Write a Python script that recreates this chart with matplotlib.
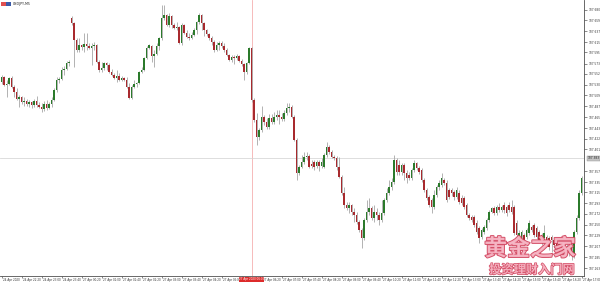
import matplotlib
matplotlib.use("Agg")
import matplotlib.pyplot as plt
import matplotlib.patheffects as pe
import matplotlib.transforms as mtransforms
from matplotlib.patches import Rectangle
import numpy as np

# ── data: USDJPY M5 candles ──────────────────────────────────────────────────

SYMBOL = "USDJPY,M5"

opens = [
    107.536, 107.546, 107.530, 107.532, 107.544, 107.526, 107.516, 107.502, 107.506, 107.496,
    107.498, 107.492, 107.496, 107.490, 107.498, 107.490, 107.486, 107.482, 107.492, 107.484,
    107.492, 107.500, 107.520, 107.540, 107.542, 107.560, 107.562, 107.574, 107.664, 107.654,
    107.620, 107.600, 107.610, 107.606, 107.612, 107.608, 107.604, 107.608, 107.610, 107.576,
    107.560, 107.564, 107.574, 107.570, 107.556, 107.550, 107.544, 107.548, 107.540, 107.544,
    107.540, 107.526, 107.504, 107.526, 107.532, 107.534, 107.556, 107.560, 107.584, 107.604,
    107.608, 107.588, 107.592, 107.608, 107.624, 107.664, 107.670, 107.650, 107.668, 107.650,
    107.644, 107.646, 107.614, 107.650, 107.634, 107.626, 107.624, 107.630, 107.640, 107.656,
    107.670, 107.654, 107.640, 107.632, 107.624, 107.616, 107.600, 107.610, 107.614, 107.608,
    107.600, 107.590, 107.580, 107.586, 107.584, 107.588, 107.578, 107.572, 107.556, 107.574,
    107.604, 107.500, 107.460, 107.426, 107.440, 107.466, 107.456, 107.446, 107.464, 107.456,
    107.466, 107.470, 107.466, 107.462, 107.474, 107.484, 107.486, 107.466, 107.420, 107.354,
    107.366, 107.376, 107.386, 107.388, 107.372, 107.376, 107.368, 107.376, 107.368, 107.366,
    107.390, 107.406, 107.396, 107.386, 107.384, 107.366, 107.346, 107.314, 107.290, 107.284,
    107.290, 107.276, 107.270, 107.256, 107.240, 107.224, 107.260, 107.276, 107.284, 107.264,
    107.276, 107.270, 107.260, 107.274, 107.300, 107.314, 107.326, 107.336, 107.380, 107.370,
    107.356, 107.370, 107.354, 107.350, 107.344, 107.360, 107.374, 107.364, 107.360, 107.340,
    107.320, 107.306, 107.300, 107.286, 107.310, 107.326, 107.330, 107.340, 107.334, 107.320,
    107.320, 107.316, 107.306, 107.314, 107.304, 107.304, 107.290, 107.270, 107.266, 107.266,
    107.254, 107.244, 107.226, 107.236, 107.244, 107.260, 107.276, 107.284, 107.274, 107.286,
    107.280, 107.290, 107.286, 107.290, 107.286, 107.286, 107.254, 107.220, 107.224, 107.230,
    107.226, 107.234, 107.246, 107.250, 107.244, 107.236, 107.230, 107.224, 107.226, 107.224,
    107.226, 107.220, 107.216, 107.208, 107.212, 107.204, 107.196, 107.206, 107.210, 107.190,
    107.236, 107.264, 107.314,
]

highs = [
    107.550, 107.548, 107.540, 107.546, 107.548, 107.530, 107.524, 107.510, 107.508, 107.506,
    107.502, 107.500, 107.498, 107.502, 107.508, 107.496, 107.494, 107.498, 107.500, 107.496,
    107.506, 107.524, 107.546, 107.546, 107.566, 107.568, 107.578, 107.580, 107.668, 107.656,
    107.624, 107.624, 107.612, 107.634, 107.634, 107.614, 107.614, 107.616, 107.612, 107.580,
    107.576, 107.576, 107.576, 107.574, 107.562, 107.554, 107.560, 107.554, 107.548, 107.546,
    107.546, 107.534, 107.530, 107.540, 107.536, 107.558, 107.566, 107.586, 107.608, 107.612,
    107.610, 107.600, 107.614, 107.626, 107.690, 107.690, 107.672, 107.674, 107.670, 107.654,
    107.656, 107.648, 107.654, 107.652, 107.640, 107.634, 107.636, 107.644, 107.658, 107.674,
    107.672, 107.656, 107.642, 107.634, 107.628, 107.620, 107.616, 107.618, 107.618, 107.614,
    107.604, 107.592, 107.590, 107.590, 107.592, 107.590, 107.582, 107.574, 107.576, 107.606,
    107.606, 107.504, 107.474, 107.444, 107.488, 107.470, 107.464, 107.472, 107.472, 107.476,
    107.480, 107.480, 107.474, 107.480, 107.494, 107.494, 107.490, 107.470, 107.424, 107.370,
    107.390, 107.396, 107.396, 107.392, 107.380, 107.380, 107.380, 107.380, 107.384, 107.394,
    107.416, 107.410, 107.400, 107.390, 107.388, 107.386, 107.350, 107.326, 107.296, 107.296,
    107.292, 107.284, 107.276, 107.260, 107.244, 107.264, 107.300, 107.304, 107.288, 107.290,
    107.284, 107.276, 107.300, 107.304, 107.324, 107.340, 107.344, 107.390, 107.384, 107.380,
    107.374, 107.374, 107.360, 107.356, 107.364, 107.380, 107.376, 107.368, 107.364, 107.344,
    107.324, 107.310, 107.304, 107.320, 107.330, 107.340, 107.354, 107.344, 107.340, 107.324,
    107.324, 107.320, 107.326, 107.320, 107.310, 107.308, 107.294, 107.274, 107.270, 107.270,
    107.260, 107.248, 107.244, 107.250, 107.264, 107.280, 107.286, 107.288, 107.290, 107.294,
    107.290, 107.296, 107.290, 107.296, 107.300, 107.290, 107.260, 107.240, 107.240, 107.234,
    107.244, 107.260, 107.250, 107.254, 107.248, 107.240, 107.234, 107.250, 107.230, 107.228,
    107.230, 107.224, 107.220, 107.224, 107.216, 107.210, 107.212, 107.210, 107.214, 107.240,
    107.270, 107.320, 107.348,
]

lows = [
    107.532, 107.528, 107.506, 107.530, 107.524, 107.506, 107.500, 107.486, 107.492, 107.488,
    107.488, 107.486, 107.484, 107.486, 107.486, 107.484, 107.476, 107.478, 107.480, 107.482,
    107.486, 107.498, 107.516, 107.534, 107.540, 107.550, 107.560, 107.568, 107.650, 107.566,
    107.596, 107.596, 107.600, 107.596, 107.600, 107.602, 107.570, 107.600, 107.574, 107.556,
    107.556, 107.560, 107.560, 107.554, 107.548, 107.542, 107.536, 107.538, 107.538, 107.538,
    107.524, 107.502, 107.502, 107.524, 107.526, 107.532, 107.554, 107.558, 107.582, 107.602,
    107.576, 107.566, 107.590, 107.600, 107.620, 107.660, 107.648, 107.646, 107.644, 107.642,
    107.640, 107.612, 107.610, 107.632, 107.624, 107.620, 107.622, 107.628, 107.632, 107.652,
    107.640, 107.628, 107.628, 107.620, 107.610, 107.596, 107.598, 107.600, 107.604, 107.596,
    107.588, 107.578, 107.576, 107.572, 107.580, 107.576, 107.568, 107.540, 107.552, 107.572,
    107.496, 107.456, 107.410, 107.420, 107.436, 107.450, 107.442, 107.442, 107.452, 107.452,
    107.460, 107.452, 107.458, 107.458, 107.470, 107.476, 107.464, 107.418, 107.340, 107.350,
    107.364, 107.372, 107.380, 107.364, 107.364, 107.360, 107.364, 107.358, 107.364, 107.364,
    107.386, 107.392, 107.384, 107.380, 107.360, 107.344, 107.310, 107.284, 107.280, 107.274,
    107.270, 107.256, 107.252, 107.236, 107.204, 107.220, 107.256, 107.270, 107.260, 107.256,
    107.260, 107.250, 107.256, 107.270, 107.296, 107.310, 107.320, 107.332, 107.350, 107.350,
    107.350, 107.340, 107.334, 107.340, 107.340, 107.356, 107.360, 107.352, 107.336, 107.316,
    107.300, 107.286, 107.274, 107.282, 107.306, 107.320, 107.326, 107.330, 107.296, 107.302,
    107.308, 107.300, 107.302, 107.292, 107.290, 107.282, 107.266, 107.260, 107.256, 107.246,
    107.232, 107.214, 107.222, 107.232, 107.240, 107.256, 107.274, 107.270, 107.270, 107.276,
    107.276, 107.274, 107.268, 107.276, 107.272, 107.230, 107.226, 107.216, 107.220, 107.216,
    107.222, 107.230, 107.236, 107.226, 107.222, 107.216, 107.210, 107.220, 107.208, 107.200,
    107.196, 107.204, 107.200, 107.196, 107.196, 107.190, 107.190, 107.188, 107.180, 107.184,
    107.232, 107.260, 107.310,
]

closes = [
    107.546, 107.530, 107.532, 107.544, 107.526, 107.516, 107.502, 107.506, 107.496, 107.498,
    107.492, 107.496, 107.490, 107.498, 107.490, 107.486, 107.482, 107.492, 107.484, 107.492,
    107.500, 107.520, 107.540, 107.542, 107.560, 107.562, 107.574, 107.576, 107.654, 107.620,
    107.600, 107.610, 107.606, 107.612, 107.608, 107.604, 107.608, 107.610, 107.576, 107.560,
    107.564, 107.574, 107.570, 107.556, 107.550, 107.544, 107.548, 107.540, 107.544, 107.540,
    107.526, 107.504, 107.526, 107.532, 107.534, 107.556, 107.560, 107.584, 107.604, 107.610,
    107.588, 107.592, 107.608, 107.624, 107.664, 107.670, 107.650, 107.668, 107.650, 107.644,
    107.646, 107.614, 107.650, 107.634, 107.626, 107.624, 107.630, 107.640, 107.656, 107.670,
    107.654, 107.640, 107.632, 107.624, 107.616, 107.600, 107.610, 107.614, 107.608, 107.600,
    107.590, 107.580, 107.586, 107.584, 107.588, 107.578, 107.572, 107.556, 107.574, 107.604,
    107.500, 107.460, 107.426, 107.440, 107.466, 107.456, 107.446, 107.464, 107.456, 107.466,
    107.470, 107.466, 107.462, 107.474, 107.484, 107.486, 107.466, 107.420, 107.354, 107.366,
    107.376, 107.386, 107.388, 107.366, 107.368, 107.366, 107.376, 107.368, 107.376, 107.390,
    107.406, 107.396, 107.386, 107.384, 107.366, 107.346, 107.314, 107.290, 107.284, 107.290,
    107.276, 107.270, 107.256, 107.240, 107.224, 107.260, 107.276, 107.284, 107.264, 107.276,
    107.270, 107.260, 107.274, 107.300, 107.314, 107.326, 107.336, 107.380, 107.356, 107.356,
    107.370, 107.354, 107.344, 107.344, 107.360, 107.374, 107.364, 107.356, 107.340, 107.320,
    107.304, 107.290, 107.286, 107.310, 107.326, 107.334, 107.344, 107.334, 107.300, 107.306,
    107.314, 107.306, 107.320, 107.296, 107.294, 107.286, 107.270, 107.264, 107.260, 107.250,
    107.236, 107.224, 107.240, 107.246, 107.260, 107.276, 107.284, 107.274, 107.286, 107.280,
    107.286, 107.280, 107.274, 107.280, 107.276, 107.234, 107.230, 107.234, 107.236, 107.220,
    107.240, 107.254, 107.240, 107.230, 107.226, 107.220, 107.214, 107.234, 107.214, 107.206,
    107.220, 107.210, 107.204, 107.212, 107.200, 107.196, 107.206, 107.196, 107.190, 107.236,
    107.264, 107.314, 107.344,
]

# one time label every 8 bars (40 minutes); the label under the marker box is hidden
time_labels = [
    "24 Apr 2020", "24 Apr 22:20", "24 Apr 23:00", "24 Apr 23:40", "27 Apr 00:20",
    "27 Apr 01:00", "27 Apr 01:40", "27 Apr 02:20", "27 Apr 03:00", "27 Apr 03:40",
    "27 Apr 04:20", "27 Apr 05:00", "", "27 Apr 06:20", "27 Apr 07:00",
    "27 Apr 07:40", "27 Apr 08:20", "27 Apr 09:00", "27 Apr 09:40", "27 Apr 10:20",
    "27 Apr 11:00", "27 Apr 11:40", "27 Apr 12:20", "27 Apr 13:00", "27 Apr 13:40",
    "27 Apr 14:20", "27 Apr 15:00", "27 Apr 15:40", "27 Apr 16:20", "27 Apr 17:00",
]
LABEL_EVERY = 8

price_ticks = [
    107.680, 107.659, 107.637, 107.615, 107.595, 107.573, 107.552, 107.530, 107.509,
    107.487, 107.465, 107.443, 107.422, 107.401, 107.357, 107.335, 107.315, 107.293,
    107.272, 107.250, 107.229, 107.207, 107.185, 107.163,
]

bid_price = 107.383
marker_bar = 100
marker_label = "27 Apr 2020 06:00"

watermark_big = "黄金之家"
watermark_small = "投资理财入门网"

# ── plot ─────────────────────────────────────────────────────────────────────

fig = plt.figure(figsize=(6, 2.83), dpi=100)
fig.patch.set_facecolor("white")
ax = fig.add_axes([0, 7 / 283, 584 / 600, 276 / 283])

o = np.array(opens)
h = np.array(highs)
l = np.array(lows)
c = np.array(closes)
x = np.arange(len(o))
up = c >= o

ax.vlines(x, l, h, color="#a6a6a6", linewidth=0.6, zorder=2)
body_bottom = np.minimum(o, c)
body_height = np.maximum(np.abs(c - o), 0.0012)
ax.bar(x[up], body_height[up], bottom=body_bottom[up], width=0.72,
       color="#2b7a2b", linewidth=0, zorder=3)
ax.bar(x[~up], body_height[~up], bottom=body_bottom[~up], width=0.72,
       color="#a82a2e", linewidth=0, zorder=3)

ax.axvline(marker_bar, color="#f4a8a8", linewidth=0.55, zorder=1)
ax.axhline(bid_price, color="#d4d4d4", linewidth=0.55, zorder=1)

ax.set_xlim(-0.6, 233.0)
ax.set_ylim(107.148, 107.700)

for side in ("left", "top"):
    ax.spines[side].set_visible(False)
for side in ("right", "bottom"):
    ax.spines[side].set_color("#505050")
    ax.spines[side].set_linewidth(0.6)

ax.yaxis.tick_right()
ax.set_yticks(price_ticks)
ax.set_yticklabels([f"{p:.3f}" for p in price_ticks])
ax.tick_params(axis="y", direction="out", length=2, width=0.4, pad=1,
               labelsize=2.1, colors="#333333")

ax.set_xticks(np.arange(0, len(o), LABEL_EVERY))
ax.set_xticklabels(time_labels, ha="left")
ax.tick_params(axis="x", direction="out", length=1.2, width=0.4, pad=0.3,
               labelsize=2.0, colors="#333333")
# time labels sit just right of their tick mark
shift = mtransforms.ScaledTranslation(1.5 / 100, 0, fig.dpi_scale_trans)
for lab in ax.get_xticklabels():
    lab.set_transform(lab.get_transform() + shift)

# highlighted time of the vertical line
xtrans = mtransforms.blended_transform_factory(ax.transData, ax.transAxes)
ax.text(marker_bar, -0.005, marker_label, transform=xtrans, ha="center", va="top",
        fontsize=2.0, color="white", zorder=10, clip_on=False,
        bbox=dict(facecolor="#dd2b2b", edgecolor="none", pad=0.3))

# bid price box on the price scale
ytrans = mtransforms.blended_transform_factory(ax.transAxes, ax.transData)
ax.text(1.006, bid_price, f"{bid_price:.3f}", transform=ytrans, ha="left", va="center",
        fontsize=2.1, color="#222222", zorder=10, clip_on=False,
        bbox=dict(facecolor="#c4c4c4", edgecolor="#909090", linewidth=0.3, pad=0.6))

# symbol header with small flag icon
fig.patches.append(Rectangle((1 / 600, 1 - 6 / 283), 5 / 600, 4 / 283,
                             transform=fig.transFigure, facecolor="#e05050", edgecolor="none"))
fig.patches.append(Rectangle((6 / 600, 1 - 6 / 283), 5 / 600, 4 / 283,
                             transform=fig.transFigure, facecolor="#3a5aa8", edgecolor="none"))
fig.text(13 / 600, 1 - 4 / 283, SYMBOL, fontsize=2.3, color="#222222", va="center", ha="left")

# site watermark
fig.text(530 / 600, 1 - 249 / 283, watermark_big, family=["Noto Sans CJK SC", "DejaVu Sans"],
         fontsize=16.5, fontweight="bold", color="#f7b8c6", ha="center", va="center",
         path_effects=[pe.withStroke(linewidth=1.3, foreground="#cf3a55")], alpha=0.9, zorder=20)
fig.text(532 / 600, 1 - 270 / 283, watermark_small, family=["Noto Sans CJK SC", "DejaVu Sans"],
         fontsize=8.8, fontweight="bold", color="#f7b8c6", ha="center", va="center",
         path_effects=[pe.withStroke(linewidth=1.0, foreground="#cf3a55")], alpha=0.9, zorder=20)

fig.savefig("out.png", dpi=100, facecolor="white")
plt.close(fig)
